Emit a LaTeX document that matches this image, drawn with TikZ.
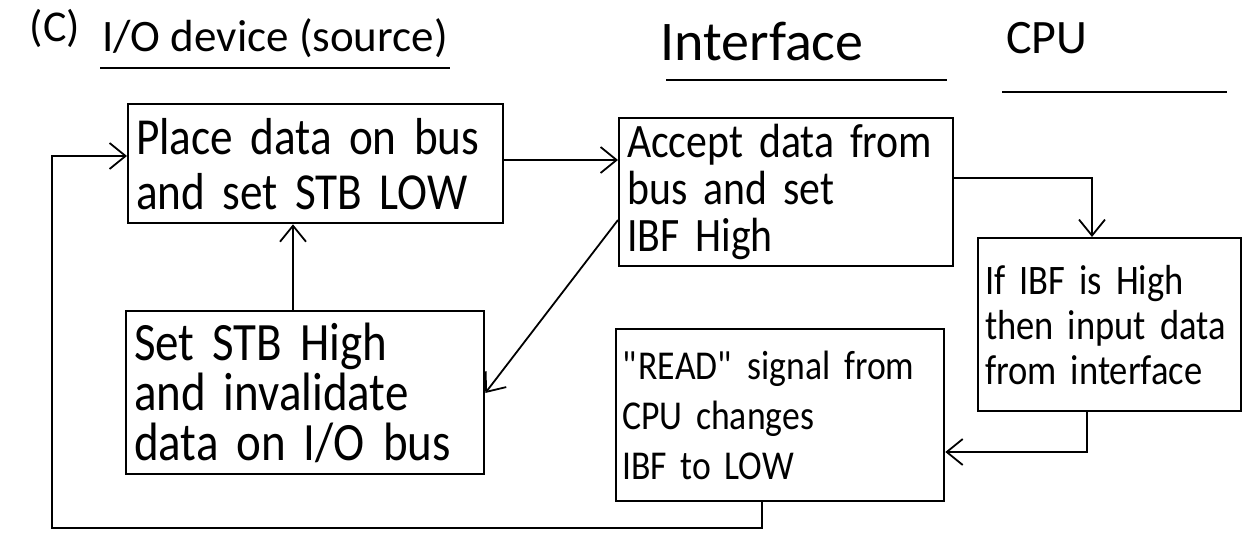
\documentclass[tikz,border=0pt]{standalone}
\usepackage{fontspec}
\setmainfont{Carlito}
\newfontfamily\hand{Carlito}[FakeStretch=0.87]
\usetikzlibrary{arrows.meta,calc}
\begin{document}
\begin{tikzpicture}[x=1pt,y=-1pt,
  box/.style={draw, line width=2.3pt, rectangle, align=left, anchor=north west,
    inner xsep=8pt, inner ysep=0pt},
  conn/.style={line width=1.8pt, -{Straight Barb[length=16pt,width=26pt]}},
  uline/.style={line width=2pt},
  hdr/.style={inner sep=0pt}
]
\useasboundingbox[fill=white] (0,0) rectangle (1243,540);

% headers
\node[hdr, font=\fontsize{44}{48}\selectfont] (lbl) at (55,28) {(C)};
\node[hdr, font=\fontsize{45}{50}\selectfont] (hio) at (275,38) {I/O device (source)};
\node[hdr, font=\fontsize{56}{60}\selectfont] (hif) at (762,42) {Interface};
\node[hdr, font=\fontsize{48}{52}\selectfont] (hcpu) at (1047,38) {CPU};
\draw[uline] (100,68) -- (450,68);
\draw[uline] (666,80) -- (947,80);
\draw[uline] (1002,92) -- (1227,92);

% boxes
\node[box, text width=359pt, minimum height=119pt, font=\hand\fontsize{52}{55}\selectfont]
  (b1) at (127,103) {Place data on bus\\ and set STB LOW};
\node[box, text width=318pt, minimum height=148pt, font=\hand\fontsize{48}{47}\selectfont]
  (b2) at (618,117) {Accept data from\\bus and set\\IBF High};
\node[box, text width=249pt, inner xsep=7pt, minimum height=173pt, font=\hand\fontsize{42}{45}\selectfont]
  (b3) at (977,237) {If IBF is High\\then input data\\from interface};
\node[box, text width=316pt, inner xsep=6pt, minimum height=172pt, font=\hand\fontsize{41}{50}\selectfont]
  (b4) at (615,328) {\textquotedbl READ\textquotedbl\ signal from\\CPU changes\\ IBF to LOW};
\node[box, text width=342pt, minimum height=163pt, font=\hand\fontsize{54}{50}\selectfont]
  (b5) at (125,310) {Set STB High\\and invalidate\\data on I/O bus};

% routing coordinates
\coordinate (r1) at (0,160);
\coordinate (k1) at (1092,178);
\coordinate (k2) at (1087,452);
\coordinate (k3) at (762,528);
\coordinate (k4) at (52,528);
\coordinate (k5) at (52,156);
\coordinate (k6) at (293,0);
\coordinate (d1) at (0,220);
\coordinate (d2) at (0,393);

% connectors
\draw[conn] (b1.east |- r1) -- (b2.west |- r1);
\draw[conn] (b2.east |- k1) -| (k1 |- b3.north);
\draw[conn] (k2 |- b3.south) |- (b4.east |- k2);
\draw[conn] (k3 |- b4.south) -- (k3) -- (k4) -- (k5) -- (b1.west |- k5);
\draw[conn] (b2.west |- d1) -- (b5.east |- d2);
\draw[conn] (b5.north -| k6) -- (b1.south -| k6);
\end{tikzpicture}
\end{document}
